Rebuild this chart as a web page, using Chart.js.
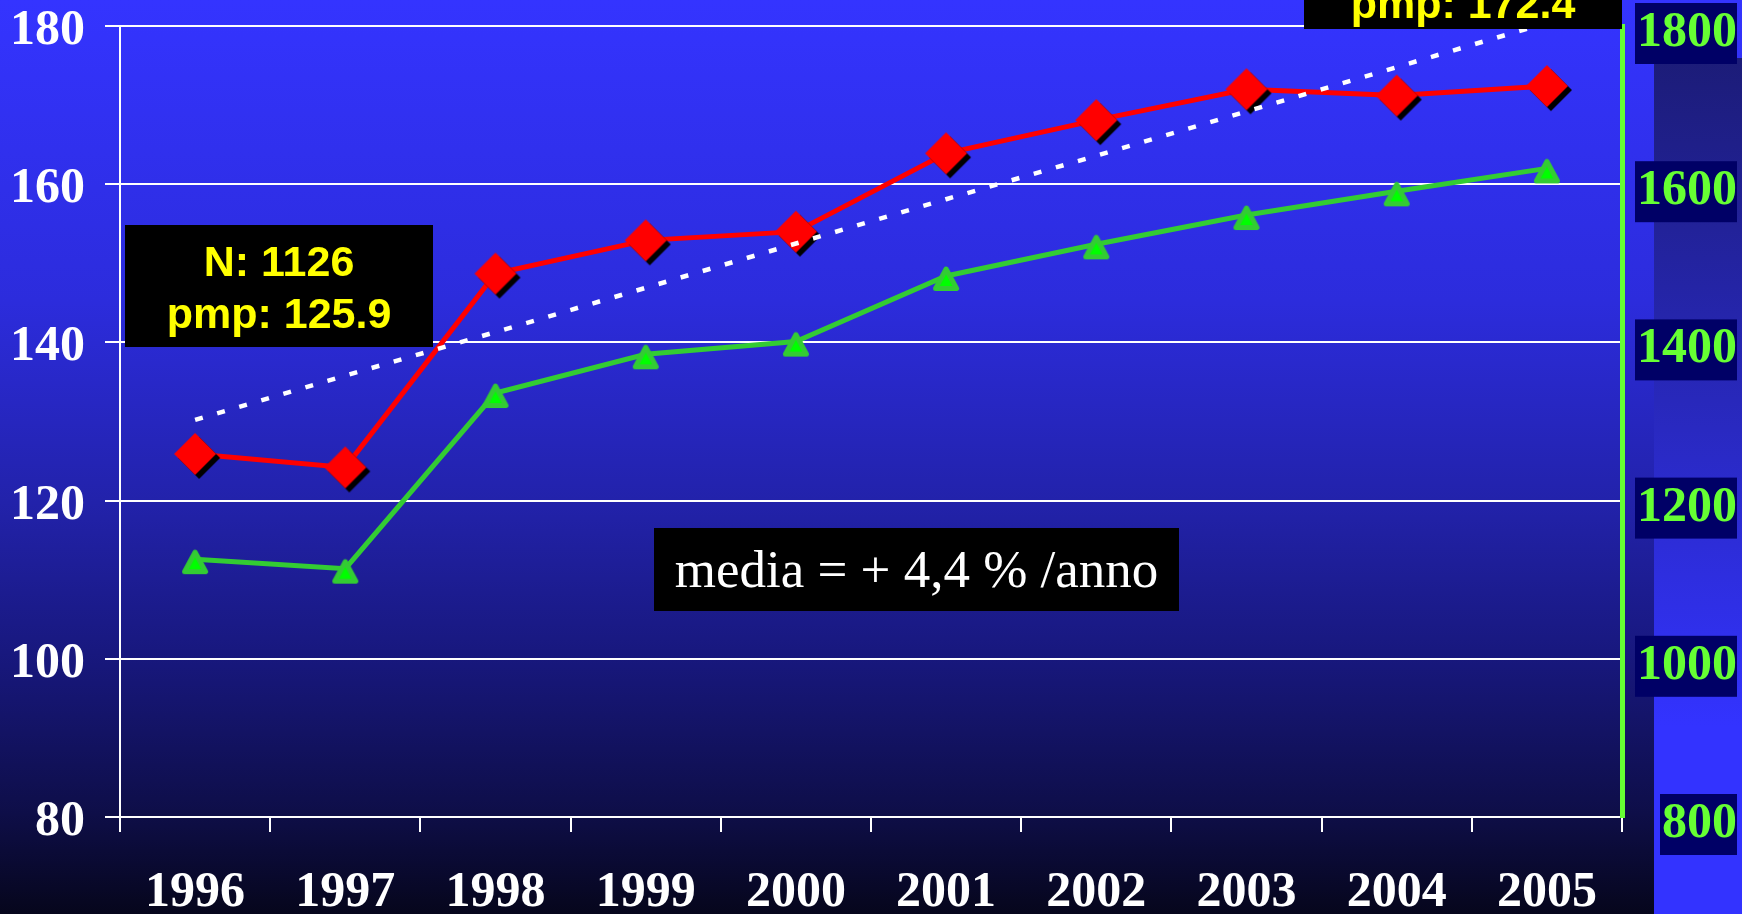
<!DOCTYPE html>
<html>
<head>
<meta charset="utf-8">
<script src="https://cdn.jsdelivr.net/npm/chart.js@4.4.1/dist/chart.umd.min.js"></script>
<style>
html,body{margin:0;padding:0;background:#000;overflow:hidden}
canvas{display:block}
</style>
</head>
<body>
<canvas id="c" width="1742" height="914"></canvas>
<script>
// ---- data ----
const years = ['1996','1997','1998','1999','2000','2001','2002','2003','2004','2005'];
const pmpValues = [125.9, 124.2, 148.7, 152.9, 154.0, 163.9, 168.1, 172.0, 171.2, 172.4];
const nValues = [1126, 1114, 1336, 1385, 1401, 1484, 1524, 1561, 1591, 1620];
const trendValues = [130.2, 135.8, 141.3, 146.9, 152.5, 158.1, 163.6, 169.2, 174.8, 180.4];
const leftTicks = [80, 100, 120, 140, 160, 180];
const rightTicks = [800, 1000, 1200, 1400, 1600, 1800];
const boxStartText = ['N: 1126', 'pmp: 125.9'];
const boxEndText = ['pmp: 172.4'];
const mediaText = 'media = + 4,4 % /anno';

const SERIF = '"Liberation Serif", "Times New Roman", serif';
const SANS = '"Liberation Sans", Arial, sans-serif';

function makeDiamond() {
  const c = document.createElement('canvas');
  c.width = 60; c.height = 60;
  const x = c.getContext('2d');
  const d = (cx, cy, r, col) => {
    x.beginPath();
    x.moveTo(cx, cy - r); x.lineTo(cx + r, cy); x.lineTo(cx, cy + r); x.lineTo(cx - r, cy);
    x.closePath(); x.fillStyle = col; x.fill();
  };
  d(34, 34, 21, '#000000');
  d(30, 30, 21, '#ff0000');
  return c;
}
function makeTriangle() {
  const c = document.createElement('canvas');
  c.width = 40; c.height = 40;
  const x = c.getContext('2d');
  x.beginPath();
  x.moveTo(20, 13); x.lineTo(30.5, 32.5); x.lineTo(9.5, 32.5); x.closePath();
  x.fillStyle = '#00ff00'; x.fill();
  x.lineWidth = 5; x.lineJoin = 'round'; x.strokeStyle = '#33cc33'; x.stroke();
  return c;
}

const bgPlugin = {
  id: 'bg',
  beforeDraw(chart) {
    const {ctx, width, height} = chart;
    ctx.save();
    const g = ctx.createLinearGradient(0, 0, 0, height);
    g.addColorStop(0, '#3434ff');
    g.addColorStop(0.33, '#2c2cdc');
    g.addColorStop(0.55, '#2222aa');
    g.addColorStop(0.73, '#17177a');
    g.addColorStop(0.89, '#0e0e48');
    g.addColorStop(1, '#06061c');
    ctx.fillStyle = g;
    ctx.fillRect(0, 0, width, height);
    const g2 = ctx.createLinearGradient(0, 58, 0, height);
    g2.addColorStop(0, '#1c1c78');
    g2.addColorStop(0.5, '#2b2bcc');
    g2.addColorStop(0.78, '#3333ff');
    g2.addColorStop(1, '#3333ff');
    ctx.fillStyle = g2;
    ctx.fillRect(1654, 58, width - 1654, height - 58);
    ctx.restore();
  }
};

const boxPlugin = {
  id: 'boxes',
  afterDraw(chart) {
    const ctx = chart.ctx;
    ctx.save();
    ctx.fillStyle = '#000';
    ctx.fillRect(125, 225, 308, 122);
    ctx.fillStyle = '#ffff00';
    ctx.font = 'bold 43px ' + SANS;
    ctx.textAlign = 'center';
    ctx.textBaseline = 'alphabetic';
    ctx.fillText(boxStartText[0], 279, 276);
    ctx.fillText(boxStartText[1], 279, 328);

    ctx.fillStyle = '#000';
    ctx.fillRect(1304, -93, 318, 122);
    ctx.fillStyle = '#ffff00';
    ctx.fillText(boxEndText[0], 1463, 18);

    ctx.fillStyle = '#000';
    ctx.fillRect(654, 528, 525, 83);
    ctx.fillStyle = '#ffffff';
    ctx.font = '53px ' + SERIF;
    ctx.textBaseline = 'middle';
    ctx.fillText(mediaText, 916.5, 573);
    ctx.restore();
  }
};

const tickFont = {family: SERIF, size: 50, weight: 'bold'};

new Chart(document.getElementById('c'), {
  type: 'line',
  data: {
    labels: years,
    datasets: [
      {label: 'trend', data: trendValues, yAxisID: 'y', borderColor: '#ffffff', borderWidth: 4.5,
       borderDash: [8, 15], pointRadius: 0, fill: false, tension: 0, order: 0},
      {label: 'pmp', data: pmpValues, yAxisID: 'y', borderColor: '#ff0000', borderWidth: 5,
       pointStyle: makeDiamond(), pointRadius: 21, fill: false, tension: 0, order: 1},
      {label: 'N', data: nValues, yAxisID: 'y2', borderColor: '#33cc33', borderWidth: 5,
       pointStyle: makeTriangle(), pointRadius: 13, fill: false, tension: 0, order: 2}
    ]
  },
  options: {
    responsive: false,
    animation: false,
    events: [],
    layout: {padding: {top: 22, left: 0, right: 5, bottom: 0}},
    plugins: {legend: {display: false}, tooltip: {enabled: false}},
    scales: {
      x: {
        type: 'category',
        offset: true,
        grid: {display: true, drawOnChartArea: false, drawTicks: true, tickLength: 15,
               color: '#ffffff', lineWidth: 2, offset: true},
        border: {display: true, color: '#ffffff', width: 2},
        ticks: {color: '#ffffff', font: tickFont, padding: 31, maxRotation: 0, autoSkip: false},
        afterFit(s) { s.height = 97; s.paddingLeft = 0; s.paddingRight = 0; }
      },
      y: {
        position: 'left',
        min: 80, max: 180,
        afterBuildTicks(s) { s.ticks = leftTicks.map(v => ({value: v})); },
        grid: {color: '#ffffff', lineWidth: 2, tickLength: 15},
        border: {display: true, color: '#ffffff', width: 2},
        ticks: {color: '#ffffff', font: tickFont, padding: 20, labelOffset: 5,
                callback: v => String(v)},
        afterFit(s) { s.width = 120; s.paddingTop = 0; s.paddingBottom = 0; }
      },
      y2: {
        position: 'right',
        min: 800, max: 1800,
        afterBuildTicks(s) { s.ticks = rightTicks.map(v => ({value: v})); },
        grid: {display: true, drawOnChartArea: false, drawTicks: false},
        border: {display: true, color: '#66ff33', width: 5},
        ticks: {color: '#66ff33', font: tickFont, crossAlign: 'far', labelOffset: 7,
                showLabelBackdrop: true, backdropColor: '#000066',
                backdropPadding: {top: 0, bottom: 1, left: 2, right: 2},
                callback: v => String(v)},
        afterFit(s) { s.width = 115; s.paddingTop = 0; s.paddingBottom = 0; }
      }
    }
  },
  plugins: [bgPlugin, boxPlugin]
});
</script>
</body>
</html>
